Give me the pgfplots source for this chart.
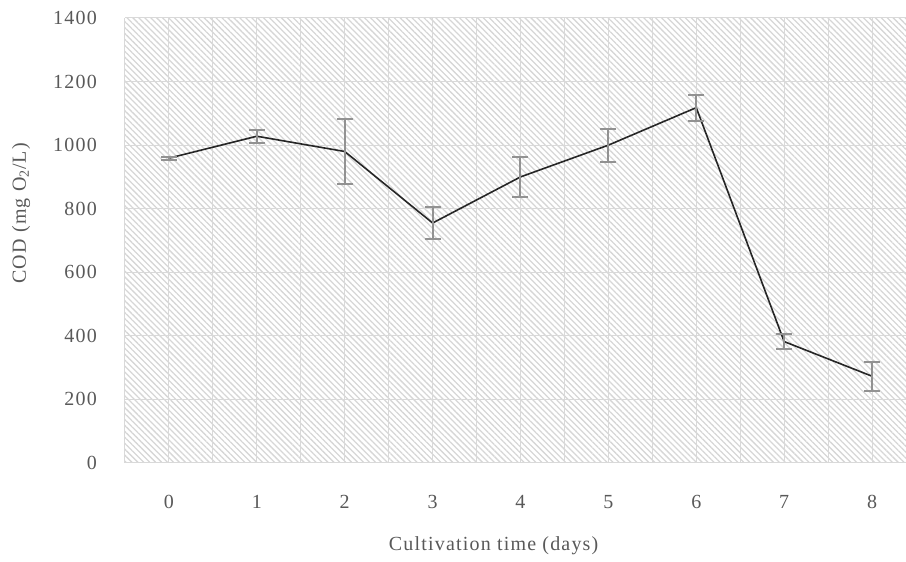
\documentclass[border=0pt]{standalone}
\usepackage{fontspec}
\setmainfont{Liberation Serif}[LetterSpace=6]
\usepackage{pgfplots}
\usepackage{pgfplotstable}
\pgfplotsset{compat=1.18}
\usetikzlibrary{patterns.meta}
\definecolor{txt}{HTML}{595959}
\definecolor{gridc}{HTML}{D9D9D9}
\definecolor{hatch}{HTML}{D6D6D6}
\definecolor{errc}{HTML}{929292}
\definecolor{lnc}{HTML}{262626}
\pgfplotstableread{
x y err
0 959 5
1 1028 20
2 980 103
3 755 50
4 900 63
5 1000 52
6 1118 41
7 382 24
8 273 46
}\datatable
\begin{document}
\begin{tikzpicture}[x=1pt,y=1pt]
\useasboundingbox (0,0) rectangle (906,562);
\begin{axis}[
  at={(125pt,99pt)}, anchor=south west,
  width=791pt, height=445pt, scale only axis,
  xmin=-0.5, xmax=8.5, ymin=0, ymax=1400,
  xtick={0,...,8}, ytick={0,200,...,1400},
  minor xtick={-0.5,0.5,...,8.5},
  xmajorgrids, xminorgrids, ymajorgrids,
  grid style={draw=gridc, line width=1pt},
  minor grid style={draw=gridc, line width=1pt},
  axis line style={draw=none},
  major tick length=0pt, minor tick length=0pt,
  axis background/.style={pattern={Lines[angle=-45,distance=4.2pt,line width=1.3pt]}, pattern color=hatch},
  /pgf/number format/assume math mode=true,
  /pgf/number format/1000 sep={},
  ticklabel style={font=\fontsize{20}{24}\selectfont, text=txt},
  xticklabel style={anchor=center, yshift=-39pt},
  yticklabel style={anchor=east, inner sep=0pt, xshift=-28pt},
  xlabel={Cultivation time (days)},
  ylabel={COD (mg O\textsubscript{2}/L)},
  label style={font=\fontsize{20}{24}\selectfont, text=txt},
  xlabel style={at={(axis description cs:0.466,0)}, anchor=center, yshift=-83pt},
  ylabel style={at={(axis description cs:-0.1315,0.561)}, anchor=center},
  clip=false,
]
\addplot[color=lnc, line width=1.6pt, no marks,
  error bars/.cd, y dir=both, y explicit,
  error bar style={line width=2pt, color=errc},
  error mark options={rotate=90, mark size=8pt, line width=2pt, color=errc}]
  table[x=x, y=y, y error=err] {\datatable};
\end{axis}
\end{tikzpicture}
\end{document}
